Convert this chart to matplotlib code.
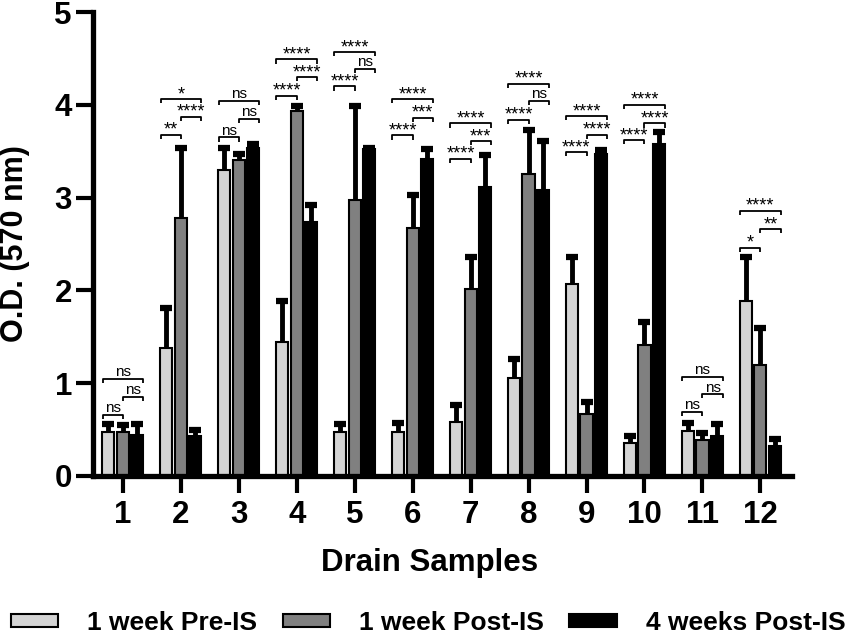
import matplotlib
matplotlib.use('Agg')
import matplotlib.pyplot as plt
import numpy as np

plt.rcParams['font.family'] = ['Liberation Sans', 'DejaVu Sans']

#... data (O.D. at 570 nm, mean and upper error)
samples = ['1', '2', '3', '4', '5', '6', '7', '8', '9', '10', '11', '12']
series_names = ['1 week Pre-IS', '1 week Post-IS', '4 weeks Post-IS']

pre_1w = [0.47, 1.38, 3.30, 1.44, 0.47, 0.47, 0.58, 1.06, 2.07, 0.35, 0.48, 1.89]
pre_1w_err = [0.09, 0.43, 0.23, 0.45, 0.09, 0.10, 0.18, 0.20, 0.29, 0.08, 0.09, 0.47]
post_1w = [0.47, 2.78, 3.41, 3.93, 2.98, 2.67, 2.01, 3.25, 0.67, 1.41, 0.39, 1.20]
post_1w_err = [0.08, 0.75, 0.06, 0.06, 1.01, 0.36, 0.35, 0.48, 0.13, 0.25, 0.07, 0.40]
post_4w = [0.44, 0.43, 3.54, 2.74, 3.52, 3.42, 3.12, 3.08, 3.47, 3.58, 0.43, 0.32]
post_4w_err = [0.12, 0.06, 0.04, 0.18, 0.02, 0.10, 0.34, 0.53, 0.04, 0.13, 0.13, 0.08]

#... significance brackets: pre vs post1w, post1w vs post4w, pre vs post4w
sig_left = ['ns', '**', 'ns', '****', '****', '****', '****', '****', '****', '****', 'ns', '*']
sig_left_y = [0.66, 3.68, 3.65, 4.10, 4.20, 3.67, 3.42, 3.84, 3.49, 3.62, 0.69, 2.46]
sig_right = ['ns', '****', 'ns', '****', 'ns', '***', '***', 'ns', '****', '****', 'ns', '**']
sig_right_y = [0.85, 3.87, 3.85, 4.30, 4.39, 3.86, 3.61, 4.04, 3.68, 3.80, 0.88, 2.66]
sig_top = ['ns', '*', 'ns', '****', '****', '****', '****', '****', '****', '****', 'ns', '****']
sig_top_y = [1.05, 4.06, 4.04, 4.49, 4.57, 4.06, 3.80, 4.23, 3.88, 4.00, 1.07, 2.86]

#=============================================================================
fig = plt.figure(figsize=(8.51, 6.38), dpi=100)
ax = fig.add_axes([0.109, 0.254, 0.822, 0.727])

x = np.arange(1, len(samples) + 1)
offsets = [-0.255, 0.0, 0.245]
colors = ['#d4d4d4', '#808080', '#000000']
width = 0.21

series = [(pre_1w, pre_1w_err), (post_1w, post_1w_err), (post_4w, post_4w_err)]
for (vals, errs), off, col, name in zip(series, offsets, colors, series_names):
    ax.bar(x + off, vals, width, color=col, edgecolor='black', linewidth=1.5,
           label=name, zorder=2)
    ax.errorbar(x + off, vals, yerr=errs, fmt='none', ecolor='black',
                elinewidth=3.5, capsize=4.5, capthick=4.5, zorder=1)

#... brackets
tip = 0.045
for i, xc in enumerate(x):
    for (x0, x1), yb, lab in [((-0.35, 0.0), sig_left_y[i], sig_left[i]),
                              ((0.0, 0.35), sig_right_y[i], sig_right[i]),
                              ((-0.35, 0.35), sig_top_y[i], sig_top[i])]:
        ax.plot([xc + x0, xc + x0, xc + x1, xc + x1],
                [yb - tip, yb, yb, yb - tip], color='black', lw=1.3,
                solid_capstyle='butt', zorder=3)
        if lab == 'ns':
            ax.text(xc + (x0 + x1) / 2, yb + 0.03, lab, ha='center',
                    va='baseline', fontsize=11, zorder=3)
        else:
            ax.text(xc + (x0 + x1) / 2, yb + 0.0, lab, ha='center',
                    va='baseline', fontsize=13, zorder=3)

ax.set_xlim(0.48, 12.55)
ax.set_ylim(0, 5)
ax.set_xticks(x)
ax.set_xticklabels(samples)
ax.set_yticks([0, 1, 2, 3, 4, 5])

for s in ['top', 'right']:
    ax.spines[s].set_visible(False)
for s in ['left', 'bottom']:
    ax.spines[s].set_linewidth(3.8)
ax.tick_params(axis='both', width=3, length=12, labelsize=22.5)
ax.tick_params(axis='x', pad=5)
ax.tick_params(axis='y', pad=3)
for lbl in ax.get_xticklabels() + ax.get_yticklabels():
    lbl.set_fontweight('bold')

ax.set_ylabel('O.D. (570 nm)', fontsize=22, fontweight='bold')
ax.yaxis.set_label_coords(-0.09, 0.5)
ax.set_xlabel('Drain Samples', fontsize=22.5, fontweight='bold', labelpad=14)
ax.xaxis.set_label_coords(0.482, -0.155)

fig.legend(loc='center', bbox_to_anchor=(0.503, 0.023), ncol=3, frameon=False,
           prop={'weight': 'bold', 'size': 19}, handlelength=1.8,
           handleheight=0.38, handletextpad=1.1, columnspacing=0.95)

fig.savefig('out.png', dpi=100)
